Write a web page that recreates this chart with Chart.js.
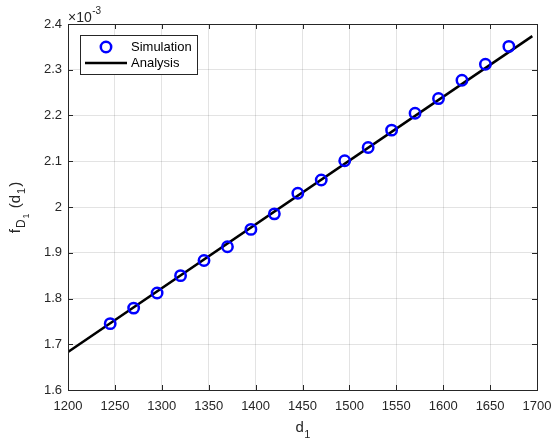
<!DOCTYPE html>
<html>
<head>
<meta charset="utf-8">
<script src="https://cdn.jsdelivr.net/npm/chart.js@4/dist/chart.umd.min.js"></script>
<style>
  html, body { margin: 0; padding: 0; background: #fff; }
  #wrap { width: 552px; height: 443px; position: relative; }
</style>
</head>
<body>
<div id="wrap"><canvas id="chart" width="552" height="443"></canvas></div>
<script>
// ===== DATA (values in units of 1e-3) =====
var simD1 = [1245, 1270, 1295, 1320, 1345, 1370, 1395, 1420, 1445, 1470, 1495, 1520, 1545, 1570, 1595, 1620, 1645, 1670];
var simF = [1.745, 1.779, 1.812, 1.850, 1.883, 1.913, 1.951, 1.985, 2.030, 2.059, 2.101, 2.130, 2.168, 2.205, 2.237, 2.277, 2.312, 2.351];
var anaD1 = [1200, 1695];
var anaF = [1.683, 2.3735];
var xTicks = [1200, 1250, 1300, 1350, 1400, 1450, 1500, 1550, 1600, 1650, 1700];
var yTicks = [1.6, 1.7, 1.8, 1.9, 2.0, 2.1, 2.2, 2.3, 2.4];
var yTickLabels = ['1.6', '1.7', '1.8', '1.9', '2', '2.1', '2.2', '2.3', '2.4'];

var FONT = '"Liberation Sans", Arial, Helvetica, sans-serif';
var AXIS_COLOR = '#262626';

function toPoints(xs, ys) {
    return xs.map(function (x, i) { return { x: x, y: ys[i] }; });
}

// box, inward ticks, axis titles, exponent and legend
var decorPlugin = {
    id: 'decor',
    afterDraw: function (chart) {
        var ctx = chart.ctx;
        var a = chart.chartArea;
        var xs = chart.scales.x, ys = chart.scales.y;
        ctx.save();

        // axes box
        ctx.strokeStyle = AXIS_COLOR;
        ctx.lineWidth = 1;
        ctx.strokeRect(Math.round(a.left) + 0.5, Math.round(a.top) + 0.5,
            Math.round(a.right - a.left), Math.round(a.bottom - a.top));

        // inward ticks on all four sides
        var tl = 5;
        ctx.beginPath();
        xTicks.forEach(function (v) {
            var px = Math.round(xs.getPixelForValue(v)) + 0.5;
            ctx.moveTo(px, a.bottom); ctx.lineTo(px, a.bottom - tl);
            ctx.moveTo(px, a.top); ctx.lineTo(px, a.top + tl);
        });
        yTicks.forEach(function (v) {
            var py = Math.round(ys.getPixelForValue(v)) + 0.5;
            ctx.moveTo(a.left, py); ctx.lineTo(a.left + tl, py);
            ctx.moveTo(a.right, py); ctx.lineTo(a.right - tl, py);
        });
        ctx.stroke();

        ctx.fillStyle = AXIS_COLOR;
        ctx.textBaseline = 'alphabetic';

        // exponent label
        ctx.textAlign = 'left';
        ctx.font = '14px ' + FONT;
        ctx.fillText('\u00d710', 68, 22);
        var w10 = ctx.measureText('\u00d710').width;
        ctx.font = '10px ' + FONT;
        ctx.fillText('-3', 68 + w10 + 0.5, 14);

        // x axis title: d_1
        ctx.font = '15px ' + FONT;
        var wd = ctx.measureText('d').width;
        var cx = (a.left + a.right) / 2;
        ctx.fillText('d', cx - 7, 432);
        ctx.font = '11px ' + FONT;
        ctx.fillText('1', cx - 7 + wd + 0.5, 438);

        // y axis title: f_{D_1}(d_1), rotated
        ctx.save();
        ctx.translate(20, 207);
        ctx.rotate(-Math.PI / 2);
        var parts = [
            { t: 'f', s: 15, dy: 0 },
            { t: 'D', s: 12, dy: 5 },
            { t: '1', s: 9, dy: 9 },
            { t: ' (d', s: 15, dy: 0 },
            { t: '1', s: 11, dy: 5 },
            { t: ')', s: 15, dy: 0 }
        ];
        var total = 0;
        parts.forEach(function (p) {
            ctx.font = p.s + 'px ' + FONT;
            p.w = ctx.measureText(p.t).width;
            total += p.w + 1;
        });
        var px = -total / 2;
        parts.forEach(function (p) {
            ctx.font = p.s + 'px ' + FONT;
            ctx.fillText(p.t, px, p.dy);
            px += p.w + 1;
        });
        ctx.restore();

        // legend
        var lx = 80.5, ly = 35.5, lw = 117, lh = 39;
        ctx.fillStyle = '#fff';
        ctx.fillRect(lx, ly, lw, lh);
        ctx.strokeStyle = AXIS_COLOR;
        ctx.lineWidth = 1;
        ctx.strokeRect(lx, ly, lw, lh);

        ctx.strokeStyle = '#0000ff';
        ctx.lineWidth = 2.5;
        ctx.beginPath();
        ctx.arc(106, 47, 5.2, 0, Math.PI * 2);
        ctx.stroke();

        ctx.strokeStyle = '#000';
        ctx.lineWidth = 2.5;
        ctx.beginPath();
        ctx.moveTo(85, 63); ctx.lineTo(127, 63);
        ctx.stroke();

        ctx.fillStyle = '#000';
        ctx.font = '13px ' + FONT;
        ctx.textAlign = 'left';
        ctx.textBaseline = 'middle';
        ctx.fillText('Simulation', 131, 47);
        ctx.fillText('Analysis', 131, 63);

        ctx.restore();
    }
};

new Chart(document.getElementById('chart'), {
    type: 'scatter',
    data: {
        datasets: [{
            label: 'Analysis',
            data: toPoints(anaD1, anaF),
            showLine: true,
            borderColor: '#000',
            borderWidth: 2.5,
            pointRadius: 0,
            fill: false,
            order: 2
        }, {
            label: 'Simulation',
            data: toPoints(simD1, simF),
            showLine: false,
            pointRadius: 5.2,
            pointBorderWidth: 2.5,
            pointBorderColor: '#0000ff',
            pointBackgroundColor: 'rgba(0,0,0,0)',
            order: 1
        }]
    },
    options: {
        responsive: false,
        animation: false,
        layout: { padding: { top: 24, right: 15, left: 0, bottom: 0 } },
        plugins: { legend: { display: false }, tooltip: { enabled: false } },
        scales: {
            x: {
                type: 'linear',
                min: 1200, max: 1700,
                afterBuildTicks: function (s) { s.ticks = xTicks.map(function (v) { return { value: v }; }); },
                afterFit: function (s) { s.height = 53; s.paddingLeft = 0; s.paddingRight = 0; },
                grid: { color: 'rgba(38,38,38,0.13)', drawTicks: false },
                border: { display: false },
                ticks: {
                    padding: 9,
                    color: AXIS_COLOR,
                    font: { family: FONT, size: 13 },
                    maxRotation: 0,
                    callback: function (v) { return String(v); }
                }
            },
            y: {
                type: 'linear',
                min: 1.6, max: 2.4,
                afterBuildTicks: function (s) { s.ticks = yTicks.map(function (v) { return { value: v }; }); },
                afterFit: function (s) { s.width = 68; s.paddingTop = 0; s.paddingBottom = 0; },
                grid: { color: 'rgba(38,38,38,0.13)', drawTicks: false },
                border: { display: false },
                ticks: {
                    padding: 6,
                    color: AXIS_COLOR,
                    font: { family: FONT, size: 13 },
                    callback: function (v, i) { return yTickLabels[i]; }
                }
            }
        }
    },
    plugins: [decorPlugin]
});
</script>
</body>
</html>
